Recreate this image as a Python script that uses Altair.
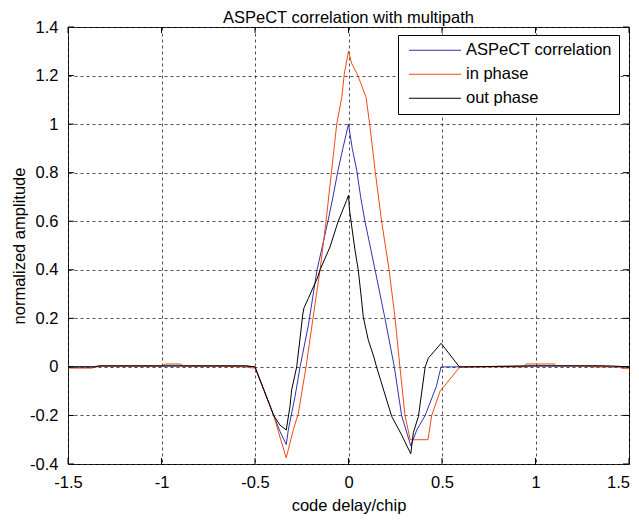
import altair as alt
import pandas as pd

FONT = "Liberation Sans"

series_names = ["ASPeCT correlation", "in phase", "out phase"]
series_colors = ["#3232b0", "#f04a12", "#000000"]

aspect_x = [-1.5, -1.35, -1.32, -0.55, -0.5, -0.45, -0.4, -0.366, -0.333, -0.322, -0.286, -0.259,
            -0.215, -0.168, -0.11, -0.083, -0.056, -0.03, 0.0, 0.02, 0.044, 0.065, 0.088, 0.142,
            0.195, 0.245, 0.284, 0.333, 0.365, 0.41, 0.47, 0.495, 0.55, 1.0, 1.35, 1.4, 1.5]
aspect_y = [0.0, 0.0, 0.004, 0.004, 0.0, -0.1, -0.2, -0.266, -0.32, -0.26, -0.122, 0.0,
            0.17, 0.4, 0.6, 0.7, 0.81, 0.9, 1.0, 0.9, 0.81, 0.7, 0.6, 0.4,
            0.2, 0.0, -0.2, -0.325, -0.26, -0.2, -0.08, 0.0, 0.0, 0.004, 0.004, 0.0, 0.0]

inphase_x = [-1.5, -1.37, -1.35, -1.0, -0.98, -0.9, -0.88, -0.7, -0.55, -0.52, -0.5, -0.45,
             -0.4, -0.366, -0.333, -0.295, -0.268, -0.227, -0.19, -0.152, -0.12, -0.09, -0.063,
             -0.036, -0.022, 0.0, 0.017, 0.044, 0.065, 0.094, 0.115, 0.142, 0.177, 0.217, 0.249,
             0.275, 0.302, 0.33, 0.425, 0.445, 0.49, 0.543, 0.596, 0.94, 0.95, 1.1, 1.11, 1.26,
             1.3, 1.45, 1.46, 1.5]
inphase_y = [-0.005, -0.005, 0.003, 0.003, 0.012, 0.012, 0.003, 0.003, 0.0, -0.004, -0.004, -0.1,
             -0.2, -0.29, -0.375, -0.259, -0.19, 0.0, 0.2, 0.4, 0.6, 0.81, 1.0,
             1.11, 1.21, 1.3, 1.25, 1.21, 1.17, 1.11, 0.99, 0.81, 0.6, 0.4, 0.2,
             0.0, -0.2, -0.3, -0.3, -0.2, -0.1, -0.05, 0.0, 0.0, 0.012, 0.012, 0.005, 0.005,
             0.0, 0.0, -0.006, -0.006]

outphase_x = [-1.5, -1.36, -1.33, -0.55, -0.5, -0.45, -0.4, -0.366, -0.333, -0.313, -0.304,
              -0.277, -0.254, -0.245, -0.238, -0.215, -0.167, -0.152, -0.099, -0.055, -0.01, 0.0,
              0.005, 0.017, 0.035, 0.052, 0.07, 0.079, 0.106, 0.136, 0.15, 0.231, 0.284, 0.333,
              0.347, 0.374, 0.41, 0.427, 0.495, 0.593, 0.62, 1.0, 1.4, 1.5]
outphase_y = [0.0, 0.0, 0.004, 0.004, 0.0, -0.1, -0.2, -0.24, -0.26, -0.163, -0.095,
              0.0, 0.152, 0.214, 0.243, 0.282, 0.365, 0.4, 0.494, 0.6, 0.686, 0.707,
              0.65, 0.58, 0.48, 0.4, 0.275, 0.206, 0.11, 0.04, 0.0, -0.204, -0.28, -0.358,
              -0.27, -0.204, 0.0, 0.036, 0.097, 0.0, 0.0, 0.004, 0.004, 0.0]

x_ticks = [-1.5, -1, -0.5, 0, 0.5, 1, 1.5]
y_ticks = [-0.4, -0.2, 0, 0.2, 0.4, 0.6, 0.8, 1, 1.2, 1.4]

rows = []
for name, xs, ys in zip(series_names, [aspect_x, inphase_x, outphase_x],
                        [aspect_y, inphase_y, outphase_y]):
    for i, (xv, yv) in enumerate(zip(xs, ys)):
        rows.append({"delay": xv, "amp": yv, "series": name, "idx": i})
df = pd.DataFrame(rows)

W, H = 561, 437
TICK = 6
FS = 16.5

x_scale = alt.Scale(domain=[-1.5, 1.5], nice=False, zero=False)
y_scale = alt.Scale(domain=[-0.4, 1.4], nice=False, zero=False)
label_expr = "'' + datum.value"

x_axis = alt.Axis(values=x_ticks, title="code delay/chip", labelExpr=label_expr,
                  grid=True, gridDash=[3, 3], gridColor="#333333", gridOpacity=0.85, gridWidth=1,
                  ticks=False, tickSize=0, domain=False, labelFont=FONT, labelFontSize=FS,
                  labelColor="#000", labelPadding=10, labelFlush=False, labelOverlap=False,
                  labelOffset={"condition": {"test": "datum.value == 1.5", "value": -11},
                               "value": 0},
                  titleFont=FONT, titleFontSize=FS, titleFontWeight="normal", titleColor="#000",
                  titlePadding=7)
y_axis = alt.Axis(values=y_ticks, title="normalized amplitude", labelExpr=label_expr,
                  grid=True, gridDash=[3, 3], gridColor="#333333", gridOpacity=0.85, gridWidth=1,
                  ticks=False, tickSize=0, domain=False, labelFont=FONT, labelFontSize=FS,
                  labelColor="#000", labelPadding=10, labelFlush=False, labelOverlap=False,
                  titleFont=FONT, titleFontSize=FS, titleFontWeight="normal", titleColor="#000",
                  titlePadding=2)

legend = alt.Legend(title=None, orient="none", legendX=330, legendY=8, direction="vertical",
                    symbolType="M-0.607,0H6.82", symbolSize=196, symbolStrokeWidth=1,
                    labelFont=FONT, labelFontSize=FS, labelColor="#000", padding=7, rowPadding=7,
                    labelOffset=44.5, strokeColor="#000", fillColor="#ffffff", cornerRadius=0,
                    labelLimit=0)

lines = alt.Chart(df).mark_line(strokeWidth=1, clip=True).encode(
    x=alt.X("delay:Q", scale=x_scale, axis=x_axis),
    y=alt.Y("amp:Q", scale=y_scale, axis=y_axis),
    color=alt.Color("series:N", scale=alt.Scale(domain=series_names, range=series_colors),
                    legend=legend),
    order="idx:Q",
)

xt = pd.DataFrame({"delay": x_ticks})
yt = pd.DataFrame({"amp": y_ticks})

xt_bottom = alt.Chart(xt).mark_rule(color="#000", strokeWidth=1).encode(
    x=alt.X("delay:Q", scale=x_scale), y=alt.value(H), y2=alt.value(H - TICK))
xt_top = alt.Chart(xt).mark_rule(color="#000", strokeWidth=1).encode(
    x=alt.X("delay:Q", scale=x_scale), y=alt.value(0), y2=alt.value(TICK))
yt_left = alt.Chart(yt).mark_rule(color="#000", strokeWidth=1).encode(
    y=alt.Y("amp:Q", scale=y_scale), x=alt.value(0), x2=alt.value(TICK))
yt_right = alt.Chart(yt).mark_rule(color="#000", strokeWidth=1).encode(
    y=alt.Y("amp:Q", scale=y_scale), x=alt.value(W), x2=alt.value(W - TICK))

chart = alt.layer(lines, xt_bottom, xt_top, yt_left, yt_right).properties(
    width=W, height=H,
    title=alt.TitleParams("ASPeCT correlation with multipath", font=FONT, fontSize=16.5,
                          fontWeight="normal", color="#000", anchor="middle", offset=5,
                          baseline="alphabetic", dy=25),
    autosize=alt.AutoSizeParams(type="none"),
    padding={"left": 60, "top": 19, "right": 2, "bottom": 52},
).configure_view(stroke="#000", strokeWidth=1)

chart.save("out.html", embed_options={"renderer": "svg", "actions": False})
